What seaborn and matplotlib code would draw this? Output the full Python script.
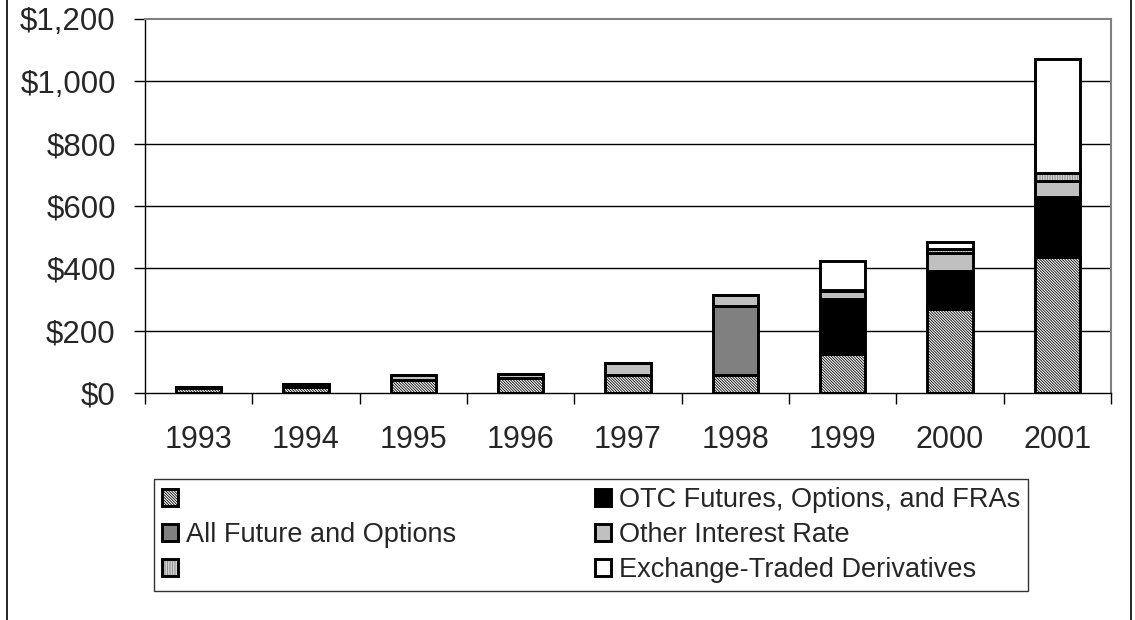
import matplotlib
matplotlib.use("Agg")
import matplotlib.pyplot as plt
import seaborn as sns
import numpy as np
import pandas as pd
from matplotlib.patches import Patch
from matplotlib.lines import Line2D
from matplotlib.ticker import FuncFormatter, FixedLocator

years = ["1993", "1994", "1995", "1996", "1997", "1998", "1999", "2000", "2001"]
hatched_base = [17, 18, 43, 47, 57, 57, 125, 271, 437]
all_futures_options = [0, 0, 0, 0, 0, 222, 0, 0, 0]
otc_futures_options_fras = [2, 8, 0, 0, 0, 0, 178, 121, 193]
other_interest_rate = [0, 4, 16, 15, 38, 35, 23, 56, 49]
vertical_series = [0, 0, 0, 0, 0, 0, 6, 13, 26]
exchange_traded = [0, 0, 0, 0, 0, 0, 91, 22, 368]

label_otc = "OTC Futures, Options, and FRAs"
label_all = "All Future and Options"
label_other = "Other Interest Rate"
label_exch = "Exchange-Traded Derivatives"
yticks = [0, 200, 400, 600, 800, 1000, 1200]

sns.set_style("white")
plt.rcParams["font.family"] = ["Liberation Sans", "DejaVu Sans"]
plt.rcParams["hatch.linewidth"] = 0.6

fig = plt.figure(figsize=(11.35, 6.2), dpi=100)
ax = fig.add_axes([145 / 1135, 1 - 393 / 620, (1111 - 145) / 1135, (393 - 19) / 620])

BW = 0.42
LW = 2.1
HATCH_D = "\\" * 12
HATCH_V = "|" * 10

series = [
    ("hatch", hatched_base, dict(color="white", edgecolor="black", hatch=HATCH_D)),
    ("all", all_futures_options, dict(color="#808080", edgecolor="black")),
    ("otc", otc_futures_options_fras, dict(color="black", edgecolor="black")),
    ("other", other_interest_rate, dict(color="#c0c0c0", edgecolor="black")),
    ("vert", vertical_series, None),
    ("exch", exchange_traded, dict(color="white", edgecolor="black")),
]

bottom = np.zeros(len(years))
for name, vals, style in series:
    df = pd.DataFrame({"year": years, "value": vals})
    if style is None:
        sns.barplot(data=df, x="year", y="value", order=years, ax=ax, width=BW,
                    errorbar=None, bottom=bottom, color="#ececec", saturation=1,
                    edgecolor="#808080", linewidth=0, hatch=HATCH_V)
        sns.barplot(data=df, x="year", y="value", order=years, ax=ax, width=BW,
                    errorbar=None, bottom=bottom, color="black", saturation=1,
                    facecolor="none", edgecolor="black", linewidth=LW)
    else:
        sns.barplot(data=df, x="year", y="value", order=years, ax=ax, width=BW,
                    errorbar=None, bottom=bottom, linewidth=LW, saturation=1, **style)
    bottom = bottom + np.array(vals, dtype=float)

ax.set_xlim(-0.5, len(years) - 0.5)
ax.set_ylim(0, 1200)
ax.set_yticks(yticks)
ax.yaxis.set_major_formatter(FuncFormatter(lambda v, p: "${:,.0f}".format(v)))
for y in yticks[1:-1]:
    ax.axhline(y, color="black", lw=1.0, zorder=0)

ax.xaxis.set_major_locator(FixedLocator(np.arange(-0.5, len(years), 1.0)))
ax.xaxis.set_minor_locator(FixedLocator(np.arange(len(years))))
ax.set_xticklabels([], minor=False)
ax.set_xticklabels(years, minor=True)
ax.tick_params(axis="x", which="major", length=8, width=1, color="black", direction="out", bottom=True)
ax.tick_params(axis="x", which="minor", length=0, pad=23, labelsize=22)
ax.tick_params(axis="y", which="major", length=8, width=1, color="black", direction="out", left=True, pad=13, labelsize=22.5)
ax.set_xlabel("")
ax.set_ylabel("")

for s in ["left", "bottom"]:
    ax.spines[s].set_color("black")
    ax.spines[s].set_linewidth(1.0)
for s in ["top", "right"]:
    ax.spines[s].set_color("#808080")
    ax.spines[s].set_linewidth(1.5)

h_hatch = Patch(facecolor="white", edgecolor="black", hatch=HATCH_D, lw=LW)
h_all = Patch(facecolor="#808080", edgecolor="black", lw=LW)
h_vert = (Patch(facecolor="#ececec", edgecolor="#808080", hatch=HATCH_V, lw=0),
          Patch(facecolor="none", edgecolor="black", lw=LW))
h_otc = Patch(facecolor="black", edgecolor="black", lw=LW)
h_other = Patch(facecolor="#c0c0c0", edgecolor="black", lw=LW)
h_exch = Patch(facecolor="white", edgecolor="black", lw=LW)

leg = fig.legend([h_hatch, h_all, h_vert, h_otc, h_other, h_exch],
                 ["", label_all, "", label_otc, label_other, label_exch],
                 ncol=2, mode="expand", loc="lower left",
                 bbox_to_anchor=(154 / 1135, 1 - 591 / 620, (1028 - 154) / 1135, (591 - 482) / 620),
                 fontsize=19.5, frameon=True, fancybox=False, edgecolor="black",
                 handlelength=0.6, handleheight=0.6, handletextpad=0.3,
                 labelspacing=0.34, borderpad=0.28, borderaxespad=0.0, columnspacing=1.0)
leg.get_frame().set_linewidth(1.0)

fig.add_artist(Line2D([7 / 1135, 7 / 1135], [0, 1], color="black", lw=1.2, transform=fig.transFigure))
fig.add_artist(Line2D([1131 / 1135, 1131 / 1135], [0, 1], color="black", lw=1.2, transform=fig.transFigure))

fig.savefig("out.png", dpi=100, facecolor="white")
